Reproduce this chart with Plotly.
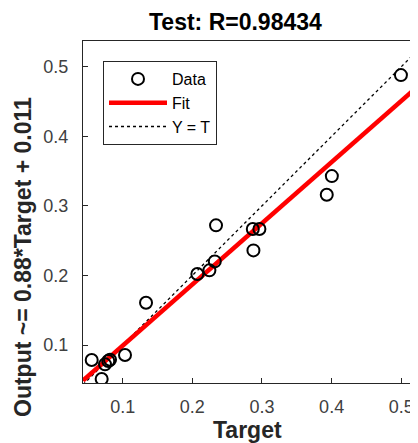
import plotly.graph_objects as go

# ---- data ----
target = [0.0555, 0.0698, 0.0746, 0.0793, 0.0818, 0.1033, 0.1335, 0.2072, 0.2245,
          0.2322, 0.2340, 0.2868, 0.2963, 0.2877, 0.4003, 0.3930, 0.4995]
output = [0.0784, 0.0511, 0.0722, 0.0770, 0.0789, 0.0856, 0.1608, 0.2020, 0.2073,
          0.2202, 0.2720, 0.2667, 0.2667, 0.2360, 0.3428, 0.3160, 0.4880]
fit_slope = 0.88
fit_intercept = 0.011
r_value = 0.98434
x_range = [0.043, 0.524]
y_range = [0.0454, 0.537]
tick_vals = [0.1, 0.2, 0.3, 0.4, 0.5]
tick_text = ["0.1", "0.2", "0.3", "0.4", "0.5"]
legend_names = ["Data", "Fit", "Y = T"]

FONT = "Liberation Sans, Arial, Helvetica, sans-serif"
AX = "#262626"
TICKC = "#404040"

# The page body has an 8px margin, so the figure is drawn 8px smaller and shifted.
OFF = 8
W, H = 418 - OFF, 443 - OFF
PL, PT, PB = 83 - OFF, 41 - OFF, 60  # plot area: x 83..418, y 41..383 on screen
PW, PH = 418 - 83, 383 - 41


def px(sx):
    return (sx - 83) / PW


def py(sy):
    return (383 - sy) / PH


line_x = list(x_range)
fit_y = [fit_slope * v + fit_intercept for v in line_x]

fig = go.Figure()
fig.add_trace(go.Scatter(x=line_x, y=line_x, mode="lines", name=legend_names[2],
                         line=dict(color="black", width=1.3, dash="dot")))
fig.add_trace(go.Scatter(x=line_x, y=fit_y, mode="lines", name=legend_names[1],
                         line=dict(color="#ff0000", width=4.5)))
fig.add_trace(go.Scatter(x=target, y=output, mode="markers", name=legend_names[0],
                         marker=dict(symbol="circle-open", size=12, color="black",
                                     line=dict(width=2, color="black"))))

axis_common = dict(showgrid=False, zeroline=False, showline=True, linecolor=AX, linewidth=1,
                   ticks="inside", ticklen=5, tickcolor=AX, tickwidth=1,
                   tickvals=tick_vals, ticktext=tick_text,
                   tickfont=dict(family=FONT, size=18, color=TICKC))

fig.update_layout(
    width=W, height=H, autosize=False,
    margin=dict(l=PL, r=0, t=PT, b=PB, pad=0),
    paper_bgcolor="white", plot_bgcolor="white",
    font=dict(family=FONT, color=AX),
    xaxis=dict(range=x_range, mirror=True, ticklabelstandoff=7, **axis_common),
    yaxis=dict(range=y_range, mirror=False, ticklabelstandoff=10, **axis_common),
    showlegend=True,
    legend=dict(x=px(103), y=py(61), xanchor="left", yanchor="top", traceorder="reversed",
                bordercolor=AX, borderwidth=1, bgcolor="white", itemwidth=58,
                font=dict(family=FONT, size=16, color="black"), tracegroupgap=0),
    annotations=[
        dict(text="<b>Test: R=%.5f</b>" % r_value, xref="paper", yref="paper",
             x=px(235.5), y=py(22), xanchor="center", yanchor="middle",
             showarrow=False, font=dict(family=FONT, size=23, color="black")),
        dict(text="<b>Target</b>", xref="paper", yref="paper",
             x=px(247), y=py(430), xanchor="center", yanchor="middle",
             showarrow=False, font=dict(family=FONT, size=23, color=AX)),
        dict(text="<b>Output ~= %.2g*Target + %.2g</b>" % (fit_slope, fit_intercept),
             xref="paper", yref="paper", textangle=-90,
             x=px(23), y=py(257), xanchor="center", yanchor="middle",
             showarrow=False, font=dict(family=FONT, size=23, color=AX)),
    ],
)

fig.write_html("out.html")
